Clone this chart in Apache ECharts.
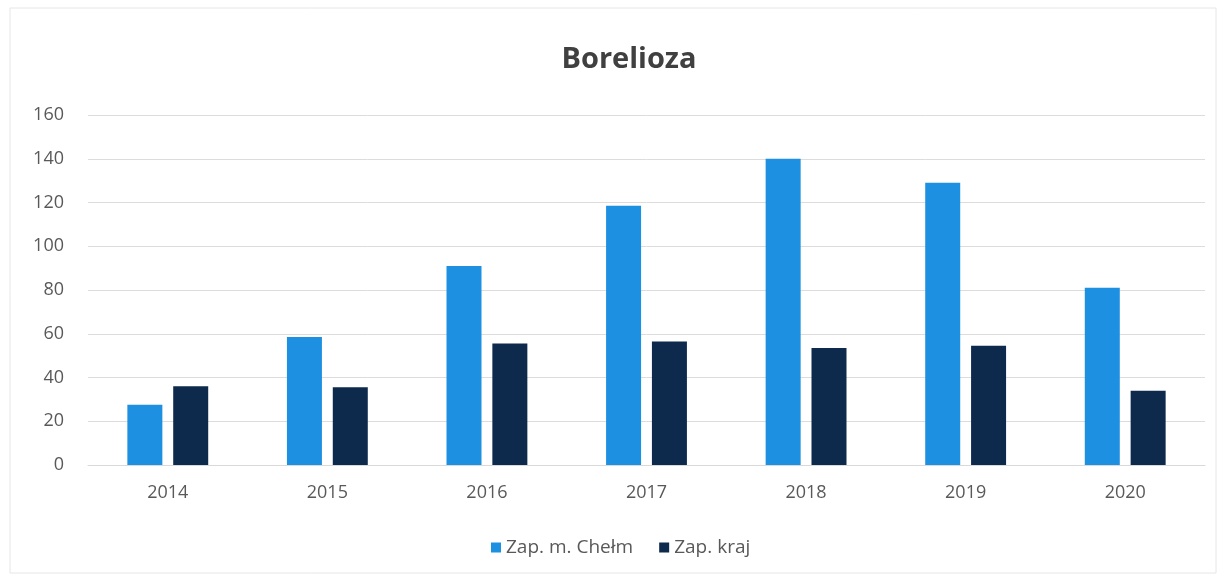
<!DOCTYPE html>
<html>
<head>
<meta charset="utf-8">
<script src="https://cdn.jsdelivr.net/npm/echarts@6/dist/echarts.min.js"></script>
<style>html,body{margin:0;padding:0;background:#fff}#c{width:1226px;height:578px}</style>
</head>
<body>
<div id="c"></div>
<script>
const years = ['2014','2015','2016','2017','2018','2019','2020'];
const chelm = [27.5, 58.5, 91, 118.5, 140, 129, 81];
const kraj = [36, 35.5, 55.5, 56.5, 53.5, 54.5, 34];
const seriesNames = ['Zap. m. Chełm', 'Zap. kraj'];

const chart = echarts.init(document.getElementById('c'));
chart.setOption({
  animation: false,
  backgroundColor: '#fff',
  title: {
    text: 'Borelioza', left: 624, textAlign: 'center', top: 40,
    textStyle: {fontFamily: 'Open Sans', fontSize: 29, fontWeight: 'bold', color: '#404040'}
  },
  legend: {
    bottom: 16, left: 486, itemWidth: 10, itemHeight: 10, itemGap: 26,
    icon: 'rect',
    textStyle: {fontFamily: 'Open Sans', fontSize: 19, color: '#595959'},
    data: seriesNames
  },
  grid: {left: 88, right: 21, top: 115, bottom: 113},
  xAxis: {
    type: 'category', data: years,
    axisLine: {lineStyle: {color: '#d9d9d9'}},
    axisTick: {show: false},
    axisLabel: {fontFamily: 'Open Sans', fontSize: 18, color: '#595959', margin: 19}
  },
  yAxis: {
    type: 'value', min: 0, max: 160, interval: 20,
    axisLine: {show: false}, axisTick: {show: false},
    axisLabel: {fontFamily: 'Open Sans', fontSize: 18, color: '#595959', margin: 24},
    splitLine: {lineStyle: {color: '#dcdcdc'}}
  },
  series: [
    {name: seriesNames[0], type: 'bar', data: chelm, barWidth: 35, barGap: '31%', itemStyle: {color: '#1E90E1'}},
    {name: seriesNames[1], type: 'bar', data: kraj, barWidth: 35, barGap: '31%', itemStyle: {color: '#0D2A4D'}}
  ],
  graphic: [{type: 'rect', shape: {x: 10, y: 8, width: 1206, height: 565}, style: {fill: 'none', stroke: '#e6e6e6', lineWidth: 1}, silent: true}]
});
</script>
</body>
</html>
